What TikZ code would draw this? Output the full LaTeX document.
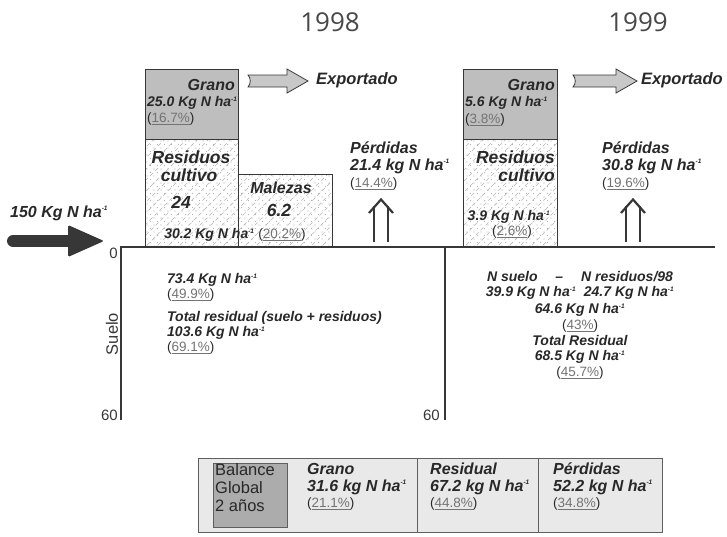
\documentclass[tikz,border=0pt]{standalone}
\usepackage{fontspec}
\setmainfont{Liberation Sans}
\newfontfamily\yearfont{Open Sans}
\definecolor{txt}{RGB}{40,40,40}
\definecolor{pctc}{RGB}{115,115,115}
\definecolor{granofill}{RGB}{190,190,190}
\definecolor{linec}{RGB}{55,55,55}
\definecolor{hatchc}{RGB}{180,180,180}
\definecolor{tablebg}{RGB}{233,233,233}
\definecolor{balfill}{RGB}{172,172,172}
\definecolor{exparrow}{RGB}{200,200,200}
\newcommand{\hainv}{ha\textsuperscript{\fontsize{6.5}{6.5}\selectfont -1}}
\newcommand{\pctx}[1]{{\normalfont\fontsize{13.5}{15}\selectfont\color{txt}(\textcolor{pctc}{\underline{#1}})}}
\tikzset{
  lab/.style={font=\bfseries\itshape\fontsize{16}{18}\selectfont, text=txt, inner sep=0pt},
  big/.style={font=\bfseries\itshape\fontsize{17.5}{19}\selectfont, text=txt, inner sep=0pt},
  num/.style={font=\bfseries\itshape\fontsize{14}{16}\selectfont, text=txt, inner sep=0pt},
  soil/.style={font=\bfseries\itshape\fontsize{14}{16}\selectfont, text=txt, inner sep=0pt},
  axlab/.style={font=\fontsize{15}{17}\selectfont, text=linec, inner sep=0pt},
  year/.style={font=\yearfont\fontsize{26}{30}\selectfont, text=txt!85, inner sep=0pt},
  boxline/.style={draw=linec, line width=0.8pt},
  axis/.style={draw=linec, line width=1.2pt},
  hatchline/.style={draw=hatchc, line width=0.6pt, dash pattern=on 4pt off 3pt},
  dbl/.style={draw=linec, line width=2.2pt},
  exparr/.style={fill=exparrow, draw=linec, line width=0.8pt, line join=miter},
  tab/.style={draw=linec!80, line width=0.8pt},
  tabtxt/.style={font=\fontsize{16.5}{19}\selectfont, text=txt, inner sep=0pt},
}
\begin{document}
\begin{tikzpicture}[x=1pt,y=-1pt]
\useasboundingbox (0,0) rectangle (727,536);

% years
\node[year] (y98) at (330,22) {1998};
\node[year] (y99) at (638,22) {1999};

% hatched boxes
\begin{scope}
\clip (145,139) rectangle (238,247) (238,174) rectangle (332,247) (463,139) rectangle (557,247);
\fill[white] (140,130) rectangle (560,250);
\foreach \i in {0,11,...,600} \draw[hatchline] (\i,260) -- ++(140,-140);
\foreach \x in {140,147,...,336} \foreach \y in {134,141,...,250} {\fill[hatchc] (\x,\y) circle (0.6); \fill[hatchc] (\x+3.5,\y+3.5) circle (0.6);}
\foreach \x in {460,467,...,560} \foreach \y in {134,141,...,250} {\fill[hatchc] (\x,\y) circle (0.6); \fill[hatchc] (\x+3.5,\y+3.5) circle (0.6);}
\end{scope}
\draw[boxline] (145,139) rectangle (238,247);
\draw[boxline] (238,174) rectangle (332,247);
\draw[boxline] (463,139) rectangle (557,247);
\draw[boxline, fill=granofill] (145,69) rectangle (238,139);
\draw[boxline, fill=granofill] (463,69) rectangle (557,139);

% axes
\draw[axis] (121,420) -- (121,247) -- (715,247);
\draw[axis] (445,247) -- (445,420);
\node[axlab, anchor=east] (z0) at (118,253) {0};
\node[axlab, anchor=east] (s60a) at (118,415) {60};
\node[axlab, anchor=east] (s60b) at (440,415) {60};
\node[axlab, rotate=90, font=\fontsize{16.5}{18}\selectfont] (suelo) at (112,334) {Suelo};

% big input arrow
\draw[linec, line width=12pt, line cap=round] (13,241) -- (72,241);
\fill[linec, rounded corners=1.5pt] (68,225) -- (104,241) -- (68,257) -- cycle;
\node[lab, anchor=west] (inN) at (10,213) {150 Kg N \hainv};

% export arrows
\draw[exparr] (248,75) .. controls (251,78) and (251,84) .. (248,87) -- (287,87) -- (287,93) -- (308,81) -- (287,69) -- (287,75) -- cycle;
\node[lab, anchor=west, font=\bfseries\itshape\fontsize{16.5}{18}\selectfont] (exp98) at (316,80) {Exportado};
\draw[exparr] (573,75) .. controls (576,78) and (576,84) .. (573,87) -- (616,87) -- (616,93) -- (637,81) -- (616,69) -- (616,75) -- cycle;
\node[lab, anchor=west, font=\bfseries\itshape\fontsize{16.5}{18}\selectfont] (exp99) at (641,80) {Exportado};

% loss double arrows
\draw[dbl] (374,242) -- (374,206); \draw[dbl] (388,242) -- (388,206);
\draw[dbl, line join=miter] (369,213) -- (381,199.5) -- (393,213);
\draw[dbl] (626,242) -- (626,206); \draw[dbl] (640,242) -- (640,206);
\draw[dbl, line join=miter] (621,213) -- (633,199.5) -- (645,213);

% 1998 box texts
\node[lab, anchor=east] (g98) at (235,85) {Grano};
\node[num, anchor=west] (g98n) at (147,103) {25.0 Kg N \hainv};
\node[anchor=west, inner sep=0pt] (g98p) at (147,119) {\pctx{16.7\%}};
\node[big] (r98a) at (191,157) {Residuos};
\node[big] (r98b) at (189,175) {cultivo};
\node[big] (r98c) at (181,202) {24};
\node[lab] (m98a) at (281,188) {Malezas};
\node[big] (m98b) at (279,210) {6.2};
\node[num] (rm98) at (235,235) {30.2 Kg N \hainv\ \pctx{20.2\%}};

% 1998 losses
\node[lab, anchor=west] (p98a) at (350,148) {Pérdidas};
\node[lab, anchor=west] (p98b) at (350,166) {21.4 kg N \hainv};
\node[anchor=west, inner sep=0pt] (p98c) at (350,184) {\pctx{14.4\%}};

% 1999 box texts
\node[lab, anchor=east] (g99) at (555,85) {Grano};
\node[num, anchor=west] (g99n) at (465,103) {5.6 Kg N \hainv};
\node[anchor=west, inner sep=0pt] (g99p) at (465,120) {\pctx{3.8\%}};
\node[big, anchor=east] (r99a) at (555,157) {Residuos};
\node[big, anchor=east] (r99b) at (555,175) {cultivo};
\node[num] (r99n) at (509,217) {3.9 Kg N \hainv};
\node[inner sep=0pt] (r99p) at (512,232) {\pctx{2.6\%}};

% 1999 losses
\node[lab, anchor=west] (p99a) at (602,148) {Pérdidas};
\node[lab, anchor=west] (p99b) at (602,166) {30.8 kg N \hainv};
\node[anchor=west, inner sep=0pt] (p99c) at (602,184) {\pctx{19.6\%}};

% soil 1998
\node[soil, anchor=west] (s98a) at (167,280) {73.4 Kg N \hainv};
\node[anchor=west, inner sep=0pt] (s98b) at (167,295) {\pctx{49.9\%}};
\node[soil, anchor=west] (s98c) at (167,318) {Total residual (suelo + residuos)};
\node[soil, anchor=west] (s98d) at (167,333) {103.6 Kg N \hainv};
\node[anchor=west, inner sep=0pt] (s98e) at (167,348) {\pctx{69.1\%}};

% soil 1999
\node[soil] (s99a) at (580,277) {N suelo\quad\ --\quad\ N residuos/98};
\node[soil] (s99b) at (580,293) {39.9 Kg N \hainv\ \ 24.7 Kg N \hainv};
\node[soil] (s99c) at (580,310) {64.6 Kg N \hainv};
\node[inner sep=0pt] (s99d) at (580,326) {\pctx{43\%}};
\node[soil] (s99e) at (580,340) {Total Residual};
\node[soil] (s99f) at (580,357) {68.5 Kg N \hainv};
\node[inner sep=0pt] (s99g) at (580,373) {\pctx{45.7\%}};

% balance table
\draw[tab, fill=tablebg] (198,458) rectangle (662,532);
\draw[tab] (417,458) -- (417,532);
\draw[tab] (538,458) -- (538,532);
\draw[tab, fill=balfill] (213,463) rectangle (287,527);
\node[tabtxt, anchor=west] (b1) at (215,470) {Balance};
\node[tabtxt, anchor=west] (b2) at (215,488) {Global};
\node[tabtxt, anchor=west] (b3) at (215,506) {2 años};
\node[lab, anchor=west] (t1a) at (307,469) {Grano};
\node[lab, anchor=west] (t1b) at (307,487) {31.6 kg N \hainv};
\node[anchor=west, inner sep=0pt] (t1c) at (307,504) {\pctx{21.1\%}};
\node[lab, anchor=west] (t2a) at (430,469) {Residual};
\node[lab, anchor=west] (t2b) at (430,487) {67.2 kg N \hainv};
\node[anchor=west, inner sep=0pt] (t2c) at (430,504) {\pctx{44.8\%}};
\node[lab, anchor=west] (t3a) at (553,469) {Pérdidas};
\node[lab, anchor=west] (t3b) at (553,487) {52.2 kg N \hainv};
\node[anchor=west, inner sep=0pt] (t3c) at (553,504) {\pctx{34.8\%}};
\end{tikzpicture}
\end{document}
